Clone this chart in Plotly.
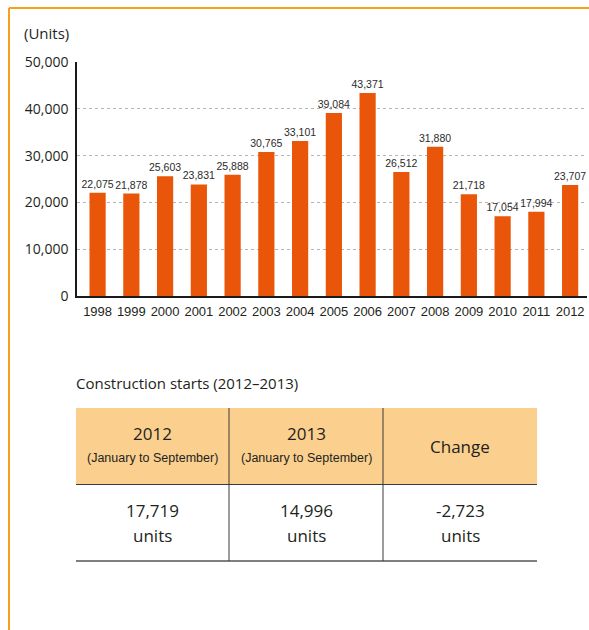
import plotly.graph_objects as go

# ---------------- data ----------------
years = ["1998", "1999", "2000", "2001", "2002", "2003", "2004", "2005",
         "2006", "2007", "2008", "2009", "2010", "2011", "2012"]
starts = [22075, 21878, 25603, 23831, 25888, 30765, 33101, 39084,
          43371, 26512, 31880, 21718, 17054, 17994, 23707]
y_ticks = [0, 10000, 20000, 30000, 40000, 50000]
y_tick_labels = ["0", "10,000", "20,000", "30,000", "40,000", "50,000"]

table_title = "Construction starts (2012–2013)"
table_head_main = ["2012", "2013", "Change"]
table_head_sub = ["(January to September)", "(January to September)", ""]
table_values = ["17,719", "14,996", "-2,723"]
table_unit = "units"

# ---------------- layout helpers ----------------
W, H = 589, 630
def px(x):
    return x / W
def py(y):
    return 1 - y / H

BAR = "#E9560A"
TXT = "#231F20"
NARROW = "Liberation Sans, Arial, sans-serif"
SANS = "Open Sans, Noto Sans, sans-serif"

fig = go.Figure()
fig.add_trace(go.Bar(
    x=years, y=starts,
    marker=dict(color=BAR, line=dict(width=0)),
    text=[f"{v:,}" for v in starts],
    textposition="outside",
    textangle=0,
    constraintext="none",
    cliponaxis=False,
    textfont=dict(family=NARROW, size=10.5, color="#2b2b2b"),
    hoverinfo="x+y",
))

shapes = []
annotations = []

# orange frame (top and left)
shapes.append(dict(type="line", xref="paper", yref="paper",
                   x0=px(9), x1=1.01, y0=py(8), y1=py(8),
                   line=dict(color="#F5A11C", width=2)))
shapes.append(dict(type="line", xref="paper", yref="paper",
                   x0=px(9), x1=px(9), y0=py(8), y1=-0.01,
                   line=dict(color="#F5A11C", width=2)))

annotations.append(dict(text="(Units)", xref="paper", yref="paper",
                        x=px(22), y=py(33), xanchor="left", yanchor="middle",
                        showarrow=False, font=dict(family=SANS, size=15, color=TXT)))

annotations.append(dict(text=table_title, xref="paper", yref="paper",
                        x=px(74), y=py(383), xanchor="left", yanchor="middle",
                        showarrow=False, font=dict(family=SANS, size=15, color=TXT)))

tl, tr = 76, 537
col_edges = [76, 229, 383, 537]
t_top, t_mid, t_bot = 408, 484.5, 561

shapes.append(dict(type="rect", xref="paper", yref="paper",
                   x0=px(tl), x1=px(tr), y0=py(t_mid), y1=py(t_top),
                   fillcolor="#FBCF8E", line=dict(width=0), layer="below"))
shapes.append(dict(type="line", xref="paper", yref="paper",
                   x0=px(tl), x1=px(tr), y0=py(t_mid), y1=py(t_mid),
                   line=dict(color="#3a3a3a", width=1)))
shapes.append(dict(type="line", xref="paper", yref="paper",
                   x0=px(tl), x1=px(tr), y0=py(t_bot), y1=py(t_bot),
                   line=dict(color="#7f7f7f", width=2)))
for xe in col_edges[1:-1]:
    shapes.append(dict(type="line", xref="paper", yref="paper",
                       x0=px(xe), x1=px(xe), y0=py(t_top), y1=py(t_bot),
                       line=dict(color="#3a3a3a", width=1)))

for i in range(3):
    cx = px((col_edges[i] + col_edges[i + 1]) / 2)
    if table_head_sub[i]:
        annotations.append(dict(text=table_head_main[i], xref="paper", yref="paper",
                                x=cx, y=py(433), xanchor="center", yanchor="middle",
                                showarrow=False, font=dict(family=SANS, size=17, color=TXT)))
        annotations.append(dict(text=table_head_sub[i], xref="paper", yref="paper",
                                x=cx, y=py(458), xanchor="center", yanchor="middle",
                                showarrow=False, font=dict(family=NARROW, size=12.5, color=TXT)))
    else:
        annotations.append(dict(text=table_head_main[i], xref="paper", yref="paper",
                                x=cx, y=py(446), xanchor="center", yanchor="middle",
                                showarrow=False, font=dict(family=SANS, size=17, color=TXT)))
    annotations.append(dict(text=table_values[i], xref="paper", yref="paper",
                            x=cx, y=py(510), xanchor="center", yanchor="middle",
                            showarrow=False, font=dict(family=SANS, size=17, color=TXT)))
    annotations.append(dict(text=table_unit, xref="paper", yref="paper",
                            x=cx, y=py(535), xanchor="center", yanchor="middle",
                            showarrow=False, font=dict(family=SANS, size=17, color=TXT)))

fig.update_layout(
    width=W, height=H, autosize=False,
    margin=dict(l=0, r=0, t=0, b=0, pad=0, autoexpand=False),
    paper_bgcolor="white", plot_bgcolor="white",
    showlegend=False,
    bargap=0.52,
    shapes=shapes,
    annotations=annotations,
    xaxis=dict(
        domain=[px(77), px(587)],
        range=[-0.61, 14.5],
        automargin=False,
        showline=True, linecolor="#1a1a1a", linewidth=1.5,
        showgrid=False, ticks="", zeroline=False,
        tickangle=0,
        tickfont=dict(family=NARROW, size=13, color=TXT),
        ticklabelstandoff=3,
    ),
    yaxis=dict(
        domain=[py(296), py(62)],
        range=[0, 50000],
        automargin=False,
        tickvals=y_ticks, ticktext=y_tick_labels,
        showline=True, linecolor="#1a1a1a", linewidth=1.5,
        showgrid=True, gridcolor="#B5B5B5", griddash="3px,3px", gridwidth=1,
        zeroline=False, ticks="",
        tickfont=dict(family=SANS, size=14, color=TXT),
        ticklabelstandoff=4,
    ),
)

fig.write_html("out.html", config={"displayModeBar": False},
               post_script="document.body.style.margin='0';document.body.style.overflow='hidden';")
